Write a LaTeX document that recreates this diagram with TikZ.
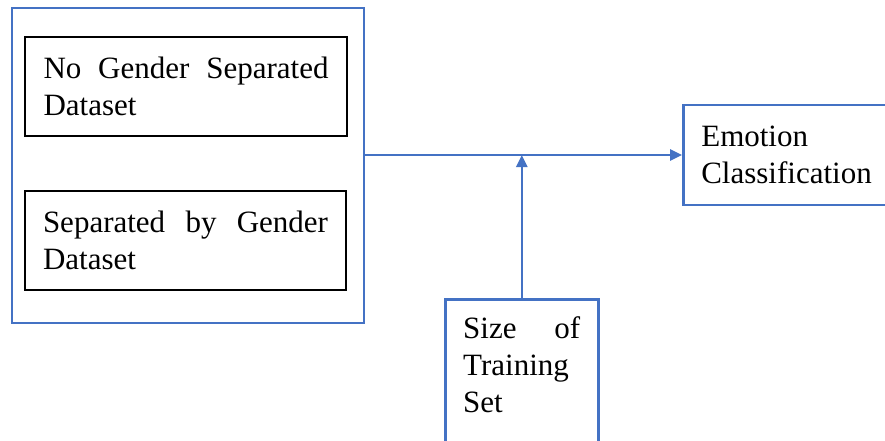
\documentclass[tikz,border=0pt]{standalone}
\usepackage{fontspec}
\newfontfamily\tnr{LiberationSerif}[Extension=.ttf,UprightFont=*-Regular]
\usetikzlibrary{arrows.meta}
\definecolor{wordblue}{HTML}{4472C4}
\begin{document}
\begin{tikzpicture}[x=1pt,y=-1pt,
  bluebox/.style={draw=wordblue,line width=2.6pt,rectangle,inner sep=0pt},
  blackbox/.style={draw=black,line width=1.1pt,rectangle,inner sep=0pt,minimum height=99pt,font=\tnr\fontsize{31}{37}\selectfont,align=left},
  conn/.style={draw=wordblue,line width=2.6pt,-{Triangle[length=12pt,width=11pt]}},
  txt/.style={font=\tnr\fontsize{31}{37}\selectfont,align=left,inner sep=0pt}]
\useasboundingbox (0,0) rectangle (885,440);
\clip (0,0) rectangle (885,440);
\fill[white] (0,0) rectangle (885,440);
% outer blue box
\node[bluebox,minimum width=352pt,minimum height=315pt] (outer) at (188,165.5) {};
% inner datasets
\node[blackbox,minimum width=322pt] (nogender) at (186,86.5) {\makebox[285pt][s]{No Gender Separated}\\Dataset};
\node[blackbox,minimum width=321pt] (bygender) at (185.5,240.5) {\makebox[285pt][s]{Separated by Gender}\\Dataset};
% emotion classification
\node[bluebox,txt,text width=185pt,inner xsep=18pt,inner ysep=0pt,minimum height=100pt,anchor=west] (emo) at (682,155) {Emotion\\Classification};
% size of training set
\node[bluebox,minimum width=153pt,minimum height=200pt,anchor=north west] (size) at (444,298) {};
\node[txt,anchor=north west] (sizetxt) at (463,316) {\makebox[117pt][s]{Size of}\\Training\\Set};
% connectors
\draw[conn] (outer.east |- emo.west) -- (emo.west);
\draw[conn] (size.north) -- (size.north |- emo.west);
\end{tikzpicture}
\end{document}
